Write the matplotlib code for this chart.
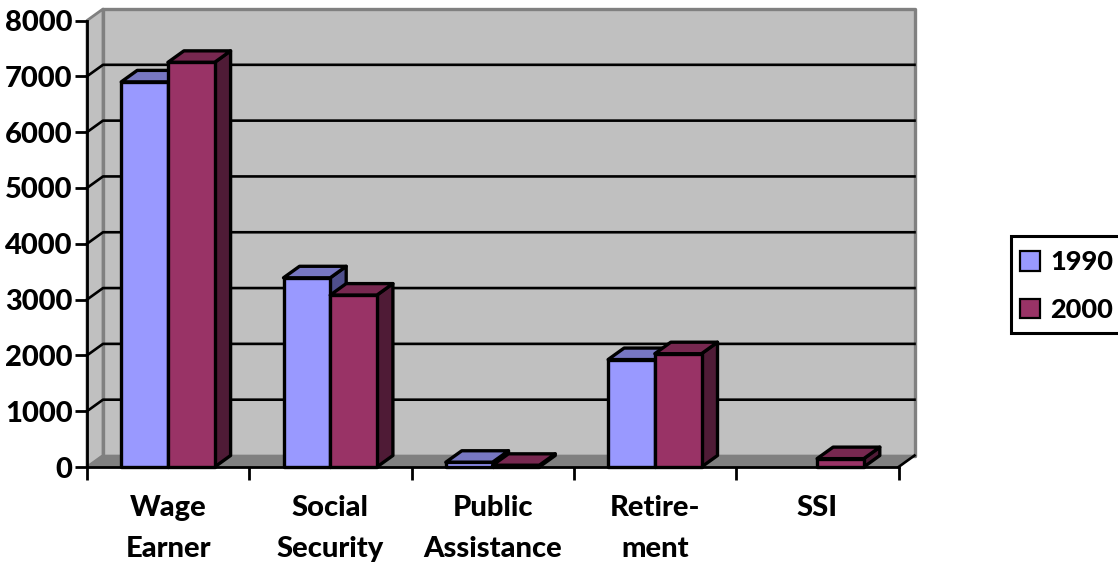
import matplotlib
matplotlib.use("Agg")
import matplotlib.pyplot as plt
from matplotlib.patches import Polygon, Rectangle, Patch

categories = ["Wage\nEarner", "Social\nSecurity", "Public\nAssistance", "Retire-\nment", "SSI"]
values_1990 = [6900, 3390, 85, 1925, 0]
values_2000 = [7250, 3080, 30, 2030, 150]
y_ticks = [0, 1000, 2000, 3000, 4000, 5000, 6000, 7000, 8000]

W, H = 1118, 564
plt.rcParams['font.family'] = ['Lato', 'DejaVu Sans']
plt.rcParams['font.weight'] = 'bold'
fig = plt.figure(figsize=(W / 100, H / 100), dpi=100)
L, R, T, B = 87, 898.5, 20.5, 467
ax = fig.add_axes([L / W, 1 - B / H, (R - L) / W, (B - T) / H])
ax.set_xlim(0, 5)
ax.set_ylim(0, 8000)

DX = 16 / ((R - L) / 5)
DY = 11.5 / ((B - T) / 8000)
BAR_W = 46.7 / ((R - L) / 5)
BAR_START = 34.2 / ((R - L) / 5)
FS = 21
WEIGHT = 900


def poly(pts, fc, ec="black", lw=2.4, z=3):
    ax.add_patch(Polygon(pts, closed=True, facecolor=fc, edgecolor=ec, linewidth=lw,
                         joinstyle="round", clip_on=False, zorder=z))


# walls and floor
ymax = y_ticks[-1]
poly([(DX, DY), (5 + DX, DY), (5 + DX, ymax + DY), (DX, ymax + DY)], "#C0C0C0", "#808080", 2.4, 1)
poly([(0, 0), (DX, DY), (DX, ymax + DY), (0, ymax)], "#C0C0C0", "#808080", 2.0, 1)
poly([(0, 0), (5, 0), (5 + DX, DY), (DX, DY)], "#808080", "#808080", 1.0, 1)

# gridlines
for v in y_ticks[1:-1]:
    ax.plot([0, DX, 5 + DX], [v, v + DY, v + DY], color="black", lw=1.9, clip_on=False, zorder=2)
ax.plot([5, 5 + DX], [0, DY], color="black", lw=1.9, clip_on=False, zorder=2)


def draw_bar(x, v, front, top, side):
    poly([(x + BAR_W, 0), (x + BAR_W + DX, DY), (x + BAR_W + DX, v + DY), (x + BAR_W, v)], side)
    poly([(x, v), (x + BAR_W, v), (x + BAR_W + DX, v + DY), (x + DX, v + DY)], top)
    ax.add_patch(Rectangle((x, 0), BAR_W, v, facecolor=front, edgecolor="black", linewidth=2.4,
                           joinstyle="round", clip_on=False, zorder=3))


for i in range(len(categories)):
    if values_1990[i] > 0:
        draw_bar(i + BAR_START, values_1990[i], "#9999FF", "#7777C2", "#4F4F8C")
    if values_2000[i] > 0:
        draw_bar(i + BAR_START + BAR_W, values_2000[i], "#993366", "#772850", "#4F1B36")

# axes
for s in ("top", "right"):
    ax.spines[s].set_visible(False)
for s in ("left", "bottom"):
    ax.spines[s].set_linewidth(2.0)
    ax.spines[s].set_zorder(4)
ax.patch.set_visible(False)
ax.set_yticks(y_ticks)
ax.set_yticklabels([str(v) for v in y_ticks], fontsize=FS, fontweight=WEIGHT)
ax.set_xticks(range(len(categories) + 1))
ax.set_xticklabels([])
ax.tick_params(axis="both", which="major", length=9, width=2.0, color="black", pad=1.5)
ax.set_xticks([i + 0.5 for i in range(len(categories))], minor=True)
ax.set_xticklabels(categories, minor=True, fontsize=FS, fontweight=WEIGHT, linespacing=1.68)
ax.tick_params(axis="x", which="minor", length=0, pad=20.5)

# legend: frame runs off the right edge of the picture, as in the reference
fig.add_artist(Rectangle((1010.5 / W, 1 - 333 / H), 120 / W, 97 / H, transform=fig.transFigure,
                         facecolor="white", edgecolor="black", linewidth=2.2, zorder=1))
handles = [Patch(facecolor="#9999FF", edgecolor="black", linewidth=1.6, label="1990"),
           Patch(facecolor="#993366", edgecolor="black", linewidth=1.6, label="2000")]
leg = fig.legend(handles=handles, loc="upper left", bbox_to_anchor=(1011.5 / W, 1 - 241.5 / H),
                 borderaxespad=0, frameon=False,
                 handlelength=0.75, handleheight=0.75, handletextpad=0.36, labelspacing=0.88,
                 borderpad=0.32, prop={"size": 19.5, "weight": WEIGHT})
leg.set_zorder(2)

fig.savefig("out.png", dpi=100)
